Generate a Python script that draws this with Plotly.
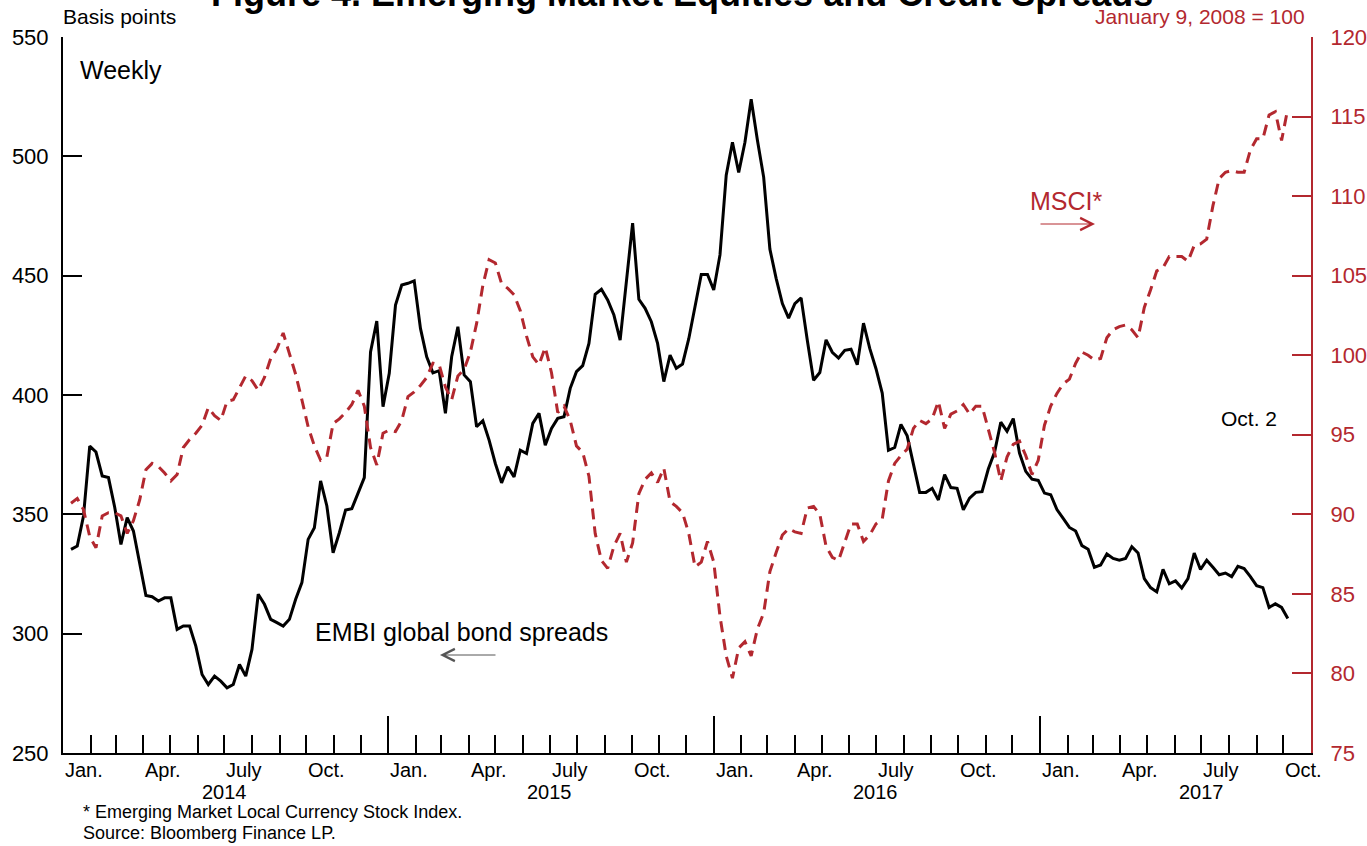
import pandas as pd
import plotly.graph_objects as go

# ---------------- data ----------------
weeks = pd.date_range('2014-01-10', periods=196, freq='7D')

embi_spreads = [
    335.3, 336.7, 349.3, 378.6, 376.1, 366.1, 365.4, 353.0, 337.4, 348.6,
    343.0, 329.7, 316.0, 315.5, 313.7, 315.0, 315.0, 301.8, 303.2, 303.2,
    294.8, 282.9, 278.7, 282.2, 280.1, 277.3, 278.7, 287.1, 282.2, 293.4,
    316.5, 312.3, 306.0, 304.6, 303.2, 306.0, 314.4, 321.4, 339.5, 344.4,
    364.0, 353.5, 333.9, 342.3, 351.8, 352.4, 359.1, 365.4, 418.0, 431.0,
    395.1, 409.1, 437.7, 446.1, 446.8, 447.8, 427.9, 416.0, 409.3, 410.2,
    392.3, 416.0, 428.6, 408.4, 405.6, 386.7, 389.2, 381.1, 371.3, 363.2,
    369.9, 365.7, 376.9, 375.5, 388.1, 392.3, 379.0, 386.0, 390.2, 390.9,
    402.8, 409.8, 412.3, 421.6, 442.2, 444.3, 439.8, 433.5, 423.0, 447.0,
    472.0, 440.1, 436.3, 430.7, 421.6, 405.6, 416.7, 411.2, 413.0, 423.6,
    437.5, 450.5, 450.5, 444.0, 458.7, 492.1, 505.9, 493.2, 505.9, 523.9,
    506.7, 491.3, 461.1, 448.9, 438.3, 432.2, 438.3, 440.7, 422.8, 406.2,
    409.4, 423.1, 417.9, 415.5, 418.7, 419.2, 412.7, 430.1, 419.5, 411.0,
    400.8, 376.8, 378.0, 387.7, 382.9, 371.4, 359.2, 359.2, 360.9, 356.0,
    366.6, 361.2, 360.9, 351.9, 356.8, 359.2, 359.5, 369.0, 376.0, 388.6,
    384.8, 390.1, 375.7, 368.0, 364.7, 364.2, 358.9, 358.2, 352.0, 348.3,
    344.5, 343.0, 336.9, 335.4, 327.8, 328.8, 333.4, 331.5, 330.8, 331.5,
    336.4, 333.8, 323.1, 319.3, 317.5, 326.9, 320.9, 322.1, 319.1, 323.1,
    333.8, 326.9, 330.8, 327.8, 324.7, 325.4, 323.9, 328.2, 327.3, 323.9,
    320.1, 319.3, 311.0, 312.5, 311.0, 306.4,
]

msci_index = [
    90.7, 91.0, 90.3, 88.6, 87.9, 89.9, 90.1, 90.1, 89.9, 88.8,
    89.6, 90.9, 92.8, 93.2, 93.0, 92.6, 92.1, 92.5, 94.2, 94.7,
    95.1, 95.6, 96.7, 96.2, 95.9, 97.1, 97.2, 98.0, 98.7, 98.4,
    97.8, 98.6, 99.8, 100.4, 101.4, 100.1, 98.8, 97.2, 95.5, 94.3,
    93.4, 93.6, 95.7, 96.0, 96.4, 96.9, 97.8, 96.8, 94.2, 93.1,
    95.1, 95.3, 95.2, 95.9, 97.4, 97.7, 98.1, 98.6, 99.5, 99.4,
    98.0, 97.2, 98.7, 99.1, 100.2, 102.0, 104.4, 106.0, 105.8, 104.5,
    104.2, 103.8, 102.8, 101.2, 99.9, 99.4, 100.5, 98.9, 96.4, 96.8,
    95.9, 94.3, 93.9, 92.4, 88.8, 87.1, 86.6, 88.0, 88.8, 87.0,
    88.2, 91.3, 92.2, 92.6, 92.0, 92.9, 90.8, 90.5, 90.1, 88.8,
    86.7, 87.0, 88.3, 87.0, 83.6, 81.1, 79.7, 81.6, 82.0, 81.1,
    82.8, 83.8, 86.4, 87.6, 88.7, 89.1, 88.9, 88.8, 90.4, 90.5,
    90.0, 88.0, 87.3, 87.1, 88.3, 89.4, 89.4, 88.3, 88.7, 89.4,
    89.7, 92.1, 93.2, 93.7, 94.1, 95.4, 95.9, 95.7, 96.0, 97.1,
    95.4, 96.3, 96.5, 96.9, 96.3, 96.8, 96.8, 95.3, 93.9, 92.1,
    93.6, 94.4, 94.6, 93.7, 92.5, 93.4, 95.6, 96.8, 97.6, 98.2,
    98.5, 99.5, 100.2, 100.0, 99.7, 99.8, 101.1, 101.6, 101.8, 101.9,
    101.6, 101.1, 103.0, 104.1, 105.3, 105.5, 106.2, 106.2, 106.2, 105.9,
    106.9, 107.0, 107.3, 109.4, 111.1, 111.5, 111.6, 111.5, 111.5, 112.9,
    113.6, 113.6, 115.1, 115.3, 113.5, 115.5,
]

years = [2014, 2015, 2016, 2017]
label_months = [1, 4, 7, 10]
month_names = ['Jan.', 'Apr.', 'July', 'Oct.']
footnotes = ['* Emerging Market Local Currency Stock Index.',
             'Source: Bloomberg Finance LP.']

# ---------------- style ----------------
RED = '#B3282F'
FONT = 'Arial, Liberation Sans, sans-serif'
W, H = 1367, 846
ML, MR, MT, MB = 63, 56, 37, 93
PW, PH = W - ML - MR, H - MT - MB


def px(p):
    return (p - ML) / PW


def py(p):
    return (H - MB - p) / PH


fig = go.Figure()
fig.add_trace(go.Scatter(x=weeks, y=embi_spreads, mode='lines',
                         line=dict(color='black', width=3),
                         yaxis='y', showlegend=False))
fig.add_trace(go.Scatter(x=weeks, y=msci_index, mode='lines',
                         line=dict(color=RED, width=3, dash='11px,7px'),
                         yaxis='y2', showlegend=False))

ann = []
for yr in years:
    for m, name in zip(label_months, month_names):
        ann.append(dict(x=f'{yr}-{m:02d}-01', xref='x', y=py(770), yref='paper',
                        text=name, showarrow=False, xanchor='left', yanchor='middle',
                        font=dict(size=20, color='black', family=FONT)))
    ann.append(dict(x=f'{yr}-07-01', xref='x', y=py(792), yref='paper',
                    text=str(yr), showarrow=False, xanchor='center', yanchor='middle',
                    font=dict(size=20, color='black', family=FONT)))

for i, t in enumerate(footnotes):
    ann.append(dict(x=px(81), xref='paper', y=py(812 + 21 * i), yref='paper',
                    text=t, showarrow=False, xanchor='left', yanchor='middle',
                    font=dict(size=18, color='black', family=FONT)))

ann += [
    dict(x=px(682), y=py(-6), xref='paper', yref='paper',
         text='<b>Figure 4. Emerging Market Equities and Credit Spreads</b>',
         showarrow=False, xanchor='center', yanchor='middle',
         font=dict(size=36, color='black', family=FONT)),
    dict(x=px(61), y=py(17), xref='paper', yref='paper', text='Basis points',
         showarrow=False, xanchor='left', yanchor='middle',
         font=dict(size=21, color='black', family=FONT)),
    dict(x=px(1307), y=py(17), xref='paper', yref='paper', text='January 9, 2008 = 100',
         showarrow=False, xanchor='right', yanchor='middle',
         font=dict(size=21, color=RED, family=FONT)),
    dict(x=px(78), y=py(70), xref='paper', yref='paper', text='Weekly',
         showarrow=False, xanchor='left', yanchor='middle',
         font=dict(size=25, color='black', family=FONT)),
    dict(x=px(313), y=py(632), xref='paper', yref='paper', text='EMBI global bond spreads',
         showarrow=False, xanchor='left', yanchor='middle',
         font=dict(size=25, color='black', family=FONT)),
    dict(x=px(440), y=py(655), xref='paper', yref='paper', text='',
         showarrow=True, ax=57, ay=0, arrowhead=5, arrowsize=2.4, arrowwidth=1,
         arrowcolor='#555555'),
    dict(x=px(1028), y=py(201), xref='paper', yref='paper', text='MSCI*',
         showarrow=False, xanchor='left', yanchor='middle',
         font=dict(size=25, color=RED, family=FONT)),
    dict(x=px(1095), y=py(224), xref='paper', yref='paper', text='',
         showarrow=True, ax=-56, ay=0, arrowhead=5, arrowsize=2.4, arrowwidth=1,
         arrowcolor=RED),
    dict(x=px(1219), y=py(418), xref='paper', yref='paper', text='Oct. 2',
         showarrow=False, xanchor='left', yanchor='middle',
         font=dict(size=21, color='black', family=FONT)),
]

fig.update_layout(
    width=W, height=H,
    margin=dict(l=ML, r=MR, t=MT, b=MB, pad=0, autoexpand=False),
    paper_bgcolor='white', plot_bgcolor='white',
    font=dict(family=FONT, size=21, color='black'),
    xaxis=dict(type='date', range=['2014-01-01', '2017-11-01'], automargin=False,
               showgrid=False, zeroline=False,
               showline=True, linecolor='black', linewidth=2,
               tickmode='linear', tick0='2014-01-01', dtick='M12',
               ticks='inside', ticklen=37, tickwidth=1.5, tickcolor='black',
               showticklabels=False,
               minor=dict(ticks='inside', ticklen=18, tickwidth=1.5, tickcolor='black',
                          tick0='2014-01-01', dtick='M1', showgrid=False)),
    yaxis=dict(range=[250, 550], tickmode='linear', tick0=250, dtick=50, automargin=False,
               showgrid=False, zeroline=False,
               showline=True, linecolor='black', linewidth=2,
               ticks='inside', ticklen=19, tickwidth=1.5, tickcolor='black',
               tickfont=dict(size=22, color='black', family=FONT),
               ticklabelstandoff=8),
    yaxis2=dict(range=[75, 120], tickmode='linear', tick0=75, dtick=5, automargin=False,
                overlaying='y', side='right', anchor='x',
                showgrid=False, zeroline=False,
                showline=True, linecolor=RED, linewidth=2,
                ticks='inside', ticklen=19, tickwidth=1.5, tickcolor=RED,
                tickfont=dict(size=22, color=RED, family=FONT),
                ticklabelstandoff=13),
    annotations=ann,
)

fig.write_html('out.html',
               config={'displayModeBar': False},
               post_script="document.body.style.margin='0';"
                           "document.body.style.overflow='hidden';")
